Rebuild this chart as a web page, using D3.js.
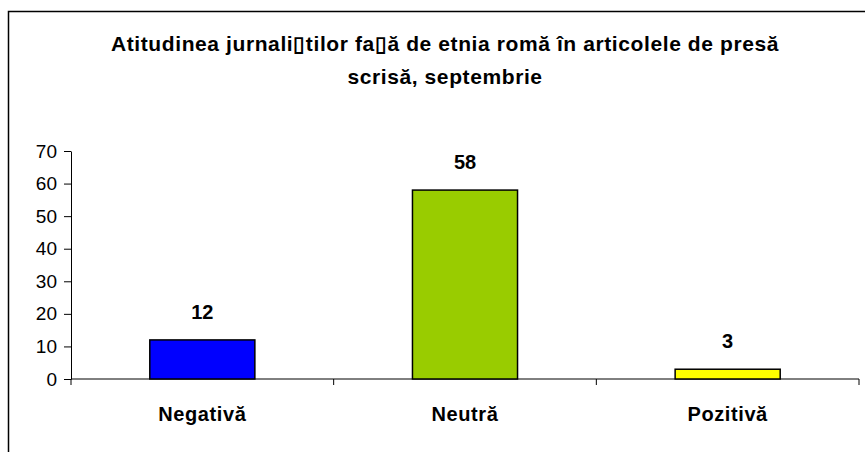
<!DOCTYPE html>
<html>
<head>
<meta charset="utf-8">
<script src="https://cdn.jsdelivr.net/npm/d3@7"></script>
<style>
  html, body { margin: 0; padding: 0; background: #fff; }
  svg { display: block; font-family: "Liberation Sans", Arial, sans-serif; }
</style>
</head>
<body>
<svg id="chart" width="865" height="452"></svg>
<script>
// Attitude of journalists towards the Roma, print press, September
const titleLines = [
  "Atitudinea jurnali\u25AFtilor fa\u25AFă de etnia romă în articolele de presă",
  "scrisă, septembrie"
];
const categories = ["Negativă", "Neutră", "Pozitivă"];
const values = [12, 58, 3];
const barColors = ["#0000FF", "#99CC00", "#FFFF00"];
const yTicks = [0, 10, 20, 30, 40, 50, 60, 70];

const svg = d3.select("#chart");

// outer chart frame (runs off the right and bottom edges)
svg.append("rect")
  .attr("x", 8.5).attr("y", 11.5)
  .attr("width", 900).attr("height", 500)
  .attr("fill", "#fff").attr("stroke", "#000").attr("stroke-width", 1.5);

const plot = { left: 71, right: 859, top: 151, bottom: 379 };

const x = d3.scaleBand()
  .domain(categories)
  .range([plot.left, plot.right])
  .paddingInner(0.6)
  .paddingOuter(0.3);

const y = d3.scaleLinear()
  .domain([0, 70])
  .range([plot.bottom, plot.top]);

// title
svg.append("g").selectAll("text")
  .data(titleLines)
  .join("text")
  .attr("x", 445)
  .attr("y", (d, i) => 51 + i * 33)
  .attr("text-anchor", "middle")
  .attr("font-size", 21)
  .attr("font-weight", "bold")
  .attr("letter-spacing", 0.6)
  .text(d => d);

// y axis
const yAxis = svg.append("g")
  .attr("transform", `translate(${plot.left},0)`)
  .call(d3.axisLeft(y).tickValues(yTicks).tickSize(7).tickPadding(7).tickSizeOuter(0));
yAxis.selectAll("text")
  .attr("font-size", 19)
  .attr("font-family", "Liberation Sans, Arial, sans-serif")
  .attr("fill", "#000");
yAxis.selectAll("line, path").attr("stroke", "#000");

// x axis with ticks on the category boundaries
const step = x.step();
const xAxis = svg.append("g").attr("transform", `translate(0,${plot.bottom})`);
xAxis.append("line")
  .attr("x1", plot.left).attr("x2", plot.right)
  .attr("stroke", "#000");
xAxis.selectAll("line.tick")
  .data(d3.range(categories.length + 1))
  .join("line")
  .attr("class", "tick")
  .attr("x1", i => plot.left + i * step).attr("x2", i => plot.left + i * step)
  .attr("y1", 0).attr("y2", 6)
  .attr("stroke", "#000");

// bars
svg.append("g").selectAll("rect")
  .data(values)
  .join("rect")
  .attr("x", (d, i) => x(categories[i]))
  .attr("y", d => y(d))
  .attr("width", x.bandwidth())
  .attr("height", d => y(0) - y(d))
  .attr("fill", (d, i) => barColors[i])
  .attr("stroke", "#000")
  .attr("stroke-width", 1.5);

// value labels
svg.append("g").selectAll("text")
  .data(values)
  .join("text")
  .attr("x", (d, i) => x(categories[i]) + x.bandwidth() / 2)
  .attr("y", d => y(d) - 21)
  .attr("text-anchor", "middle")
  .attr("font-size", 20)
  .attr("font-weight", "bold")
  .text(d => d);

// category labels
svg.append("g").selectAll("text")
  .data(categories)
  .join("text")
  .attr("x", d => x(d) + x.bandwidth() / 2)
  .attr("y", 421)
  .attr("text-anchor", "middle")
  .attr("font-size", 20)
  .attr("font-weight", "bold")
  .attr("letter-spacing", 0.6)
  .text(d => d);
</script>
</body>
</html>
